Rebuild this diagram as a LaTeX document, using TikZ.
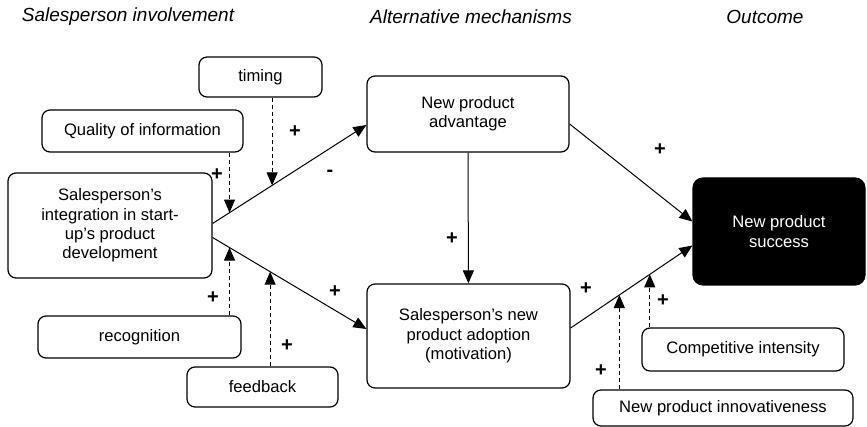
\documentclass[tikz,border=0pt]{standalone}
\usepackage{fontspec}
\setmainfont{Liberation Sans}
\usetikzlibrary{arrows.meta}

\tikzset{
	box/.style={rectangle, rounded corners=4pt, draw, line width=0.6pt, align=center,
		inner sep=1pt, font=\fontsize{8.3}{9.7}\selectfont},
	path-arrow/.style={line width=0.5pt, -{Triangle[length=6.5pt,width=5.5pt]}},
	mod-arrow/.style={line width=0.5pt, dash pattern=on 2pt off 1.5pt, -{Triangle[length=6.5pt,width=5.5pt]}},
	sign/.style={inner sep=0pt, font=\fontsize{10}{10}\selectfont\bfseries},
	heading/.style={inner sep=0pt, font=\fontsize{9.5}{11}\selectfont\itshape}
}

\begin{document}
\begin{tikzpicture}[x=0.5pt,y=-0.5pt]
			
			\useasboundingbox (0,0) rectangle (867,427);
			
			\node[heading] (Head-Involve) at (128,17) {Salesperson involvement};
			\node[heading] (Head-Mech) at (471,17) {Alternative mechanisms};
			\node[heading] (Head-Outcome) at (765,17) {Outcome};
			
			\node[box, minimum width=61.5pt, minimum height=20pt]
			(Timing) at (260.5,77) {timing};
			
			\node[box, minimum width=100.5pt, minimum height=21pt]
			(Quality) at (142.5,131) {Quality of information};
			
			\node[box, minimum width=102pt, minimum height=52.5pt]
			(Integration) at (110,225.5) {Salesperson’s\\integration in start-\\up’s product\\development};
			
			\node[box, minimum width=101.5pt, minimum height=21pt]
			(Recognition) at (139.5,337) {recognition};
			
			\node[box, minimum width=75.5pt, minimum height=20pt]
			(Feedback) at (262.5,387) {feedback};
			
			\node[box, minimum width=101pt, minimum height=38pt]
			(NP-Advantage) at (468,114) {New product\\advantage};
			
			\node[box, minimum width=101.5pt, minimum height=52pt]
			(NP-Adoption) at (468.5,336) {Salesperson’s new\\product adoption\\(motivation)};
			
			\node[box, rounded corners=5pt, fill=black, text=white, minimum width=86pt, minimum height=53.5pt]
			(NP-Success) at (779,231.5) {New product\\success};
			
			\node[box, minimum width=101pt, minimum height=21.5pt]
			(Comp-Intensity) at (743,349.5) {Competitive intensity};
			
			\node[box, minimum width=130pt, minimum height=18pt]
			(NP-Innov) at (723,408) {New product innovativeness};
			
			% main paths
			\draw[path-arrow] ([yshift=1pt]Integration.east) -- coordinate[pos=0.11] (Quality-Hit)
			coordinate[pos=0.387] (Timing-Hit) ([yshift=-5.5pt]NP-Advantage.west);
			\draw[path-arrow] ([yshift=-6pt]Integration.east) -- coordinate[pos=0.11] (Recognition-Hit)
			coordinate[pos=0.374] (Feedback-Hit) ([yshift=3.5pt]NP-Adoption.west);
			\draw[path-arrow] (NP-Advantage) -- (NP-Adoption);
			\draw[path-arrow] ([yshift=-5pt]NP-Advantage.east) -- ([yshift=5pt]NP-Success.west);
			\draw[path-arrow] ([yshift=4pt]NP-Adoption.east) -- coordinate[pos=0.40] (Innov-Hit)
			coordinate[pos=0.65] (Comp-Hit) ([yshift=-7pt]NP-Success.west);
			
			% moderators
			\draw[mod-arrow] (Quality-Hit |- Quality.south) -- (Quality-Hit);
			\draw[mod-arrow] (Timing-Hit |- Timing.south) -- (Timing-Hit);
			\draw[mod-arrow] (Recognition-Hit |- Recognition.north) -- (Recognition-Hit);
			\draw[mod-arrow] (Feedback-Hit |- Feedback.north) -- (Feedback-Hit);
			\draw[mod-arrow] (Comp-Hit |- Comp-Intensity.north) -- (Comp-Hit);
			\draw[mod-arrow] (Innov-Hit |- NP-Innov.north) -- (Innov-Hit);
			
			% signs
			\node[sign] (Sign-Timing) at (295,132) {+};
			\node[sign] (Sign-Quality) at (217,175) {+};
			\node[sign] (Sign-Upper) at (330,173) {-};
			\node[sign] (Sign-Lower) at (335,292) {+};
			\node[sign] (Sign-Recognition) at (213,298) {+};
			\node[sign] (Sign-Feedback) at (287,346) {+};
			\node[sign] (Sign-Mediate) at (452,239) {+};
			\node[sign] (Sign-Advantage) at (660,150) {+};
			\node[sign] (Sign-Adoption) at (586,289) {+};
			\node[sign] (Sign-Comp) at (663,301) {+};
			\node[sign] (Sign-Innov) at (601,371) {+};
			
\end{tikzpicture}
\end{document}
